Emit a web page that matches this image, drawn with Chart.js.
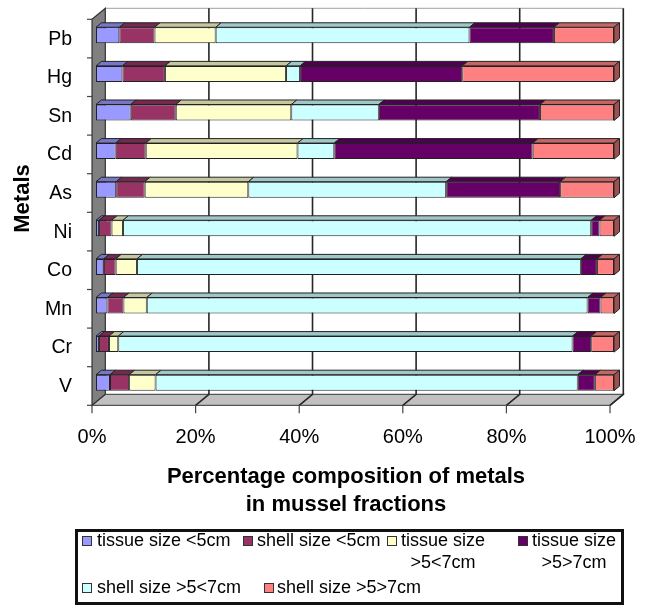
<!DOCTYPE html>
<html>
<head>
<meta charset="utf-8">
<script src="https://cdn.jsdelivr.net/npm/chart.js@4.4.1/dist/chart.umd.min.js"></script>
<style>
  html, body { margin: 0; padding: 0; background: #fff; }
  #wrap { position: relative; width: 646px; height: 606px; overflow: hidden; }
  #chart { position: absolute; left: 0; top: 0; }
  #legendBox { position: absolute; left: 75px; top: 529px; width: 543px; height: 70px; border: 3px solid #111; }
  .lg-sw { position: absolute; width: 8px; height: 8px; border: 1px solid #333; }
  .lg-tx { position: absolute; font: 18px "Liberation Sans", Arial, sans-serif; color: #000; line-height: 22px; }
</style>
</head>
<body>
<div id="wrap">
  <canvas id="chart" width="646" height="606"></canvas>
  <div id="legendBox"></div>
</div>
<script>
// Metals, listed top to bottom
const categories = ['Pb', 'Hg', 'Sn', 'Cd', 'As', 'Ni', 'Co', 'Mn', 'Cr', 'V'];

// Share (%) of each metal held in each mussel fraction
const tissueUnder5 = [4.5, 5.1, 6.7, 3.8, 3.9, 0.6, 1.5, 2.2, 0.6, 2.7];
const shellUnder5  = [6.8, 8.2, 8.7, 5.8, 5.5, 2.4, 2.3, 3.1, 1.9, 3.7];
const tissue5to7   = [11.8, 23.4, 22.3, 29.3, 20.0, 2.2, 4.1, 4.5, 1.8, 5.1];
const shell5to7    = [49.0, 2.7, 16.9, 7.1, 38.2, 90.4, 85.7, 85.1, 87.7, 81.5];
const tissueOver7  = [16.3, 31.3, 31.1, 38.3, 22.0, 1.6, 3.1, 2.5, 3.6, 3.3];
const shellOver7   = [11.6, 29.3, 14.3, 15.7, 10.4, 2.8, 3.3, 2.6, 4.4, 3.7];

const seriesNames = ['tissue size <5cm', 'shell size <5cm', 'tissue size >5<7cm',
                     'shell size >5<7cm', 'tissue size >5>7cm', 'shell size >5>7cm'];
const seriesValues = [tissueUnder5, shellUnder5, tissue5to7, shell5to7, tissueOver7, shellOver7];

const xTickLabels = ['0%', '20%', '40%', '60%', '80%', '100%'];
const xTitle = ['Percentage composition of metals', 'in mussel fractions'];
const yTitle = 'Metals';

// Styling
const seriesColors = ['#9999FF', '#993366', '#FFFFCC', '#CCFFFF', '#660066', '#FF8080'];
const FONT = '"Liberation Sans", Arial, sans-serif';

function shade(hex, f) {
  const n = parseInt(hex.slice(1), 16);
  const r = Math.round(((n >> 16) & 255) * f);
  const g = Math.round(((n >> 8) & 255) * f);
  const b = Math.round((n & 255) * f);
  return `rgb(${r},${g},${b})`;
}

// Depth of the 3-D box (back wall offset) and of the bars themselves
const BOX_DX = 13.3, BOX_DY = -11, BAR_PLANE = 0.3;
const BAR_DX = 5.5, BAR_DY = -4.5;

// Walls, floor, gridlines and tick marks of the 3-D frame
const frame3d = {
  id: 'frame3d',
  beforeDatasetsDraw(chart) {
    const { ctx, chartArea: a, scales: { x } } = chart;
    const px = (v, k) => x.getPixelForValue(v) + (k - BAR_PLANE) * BOX_DX;
    const py = (yy, k) => yy + (k - BAR_PLANE) * BOX_DY;
    const top = a.top, bot = a.bottom;
    ctx.save();
    ctx.lineJoin = 'miter';

    // floor
    ctx.beginPath();
    ctx.moveTo(px(0, 0), py(bot, 0));
    ctx.lineTo(px(100, 0), py(bot, 0));
    ctx.lineTo(px(100, 1), py(bot, 1));
    ctx.lineTo(px(0, 1), py(bot, 1));
    ctx.closePath();
    ctx.fillStyle = '#c0c0c0';
    ctx.fill();
    ctx.strokeStyle = '#555';
    ctx.lineWidth = 1.2;
    ctx.stroke();

    // back wall top edge
    ctx.beginPath();
    ctx.moveTo(px(0, 1), py(top, 1));
    ctx.lineTo(px(100, 1), py(top, 1));
    ctx.strokeStyle = '#a0a0a0';
    ctx.lineWidth = 1;
    ctx.stroke();

    // gridlines on the back wall and across the floor
    ctx.strokeStyle = '#262626';
    ctx.lineWidth = 1.6;
    for (let v = 20; v <= 100; v += 20) {
      ctx.beginPath();
      ctx.moveTo(px(v, 1), py(top, 1));
      ctx.lineTo(px(v, 1), py(bot, 1));
      ctx.lineTo(px(v, 0), py(bot, 0));
      ctx.stroke();
    }

    // left wall
    ctx.beginPath();
    ctx.moveTo(px(0, 0), py(top, 0));
    ctx.lineTo(px(0, 1), py(top, 1));
    ctx.lineTo(px(0, 1), py(bot, 1));
    ctx.lineTo(px(0, 0), py(bot, 0));
    ctx.closePath();
    ctx.fillStyle = '#808080';
    ctx.fill();
    ctx.strokeStyle = '#333';
    ctx.lineWidth = 1.2;
    ctx.stroke();

    // tick marks
    ctx.strokeStyle = '#444';
    ctx.lineWidth = 1.2;
    for (let v = 0; v <= 100; v += 20) {
      ctx.beginPath();
      ctx.moveTo(px(v, 0), py(bot, 0));
      ctx.lineTo(px(v, 0), py(bot, 0) + 8);
      ctx.stroke();
    }
    const band = (bot - top) / categories.length;
    for (let k = 0; k <= categories.length; k++) {
      const yy = py(top + k * band, 0);
      ctx.beginPath();
      ctx.moveTo(px(0, 0), yy);
      ctx.lineTo(px(0, 0) - 5, yy);
      ctx.stroke();
    }
    ctx.restore();
  },
  // top faces of every segment, end cap of the last one
  afterDatasetsDraw(chart) {
    const ctx = chart.ctx;
    const last = chart.data.datasets.length - 1;
    ctx.save();
    ctx.strokeStyle = '#222';
    ctx.lineWidth = 1;
    chart.data.datasets.forEach((ds, di) => {
      const meta = chart.getDatasetMeta(di);
      meta.data.forEach((bar) => {
        const p = bar.getProps(['x', 'y', 'base', 'height'], true);
        const x0 = Math.min(p.base, p.x), x1 = Math.max(p.base, p.x);
        const yt = p.y - p.height / 2, yb = p.y + p.height / 2;
        ctx.beginPath();
        ctx.moveTo(x0, yt);
        ctx.lineTo(x1, yt);
        ctx.lineTo(x1 + BAR_DX, yt + BAR_DY);
        ctx.lineTo(x0 + BAR_DX, yt + BAR_DY);
        ctx.closePath();
        ctx.fillStyle = shade(seriesColors[di], 0.78);
        ctx.fill();
        ctx.stroke();
        if (di === last) {
          ctx.beginPath();
          ctx.moveTo(x1, yt);
          ctx.lineTo(x1 + BAR_DX, yt + BAR_DY);
          ctx.lineTo(x1 + BAR_DX, yb + BAR_DY);
          ctx.lineTo(x1, yb);
          ctx.closePath();
          ctx.fillStyle = shade(seriesColors[di], 0.62);
          ctx.fill();
          ctx.stroke();
        }
      });
    });
    ctx.restore();
  },
  // axis titles
  afterDraw(chart) {
    const ctx = chart.ctx;
    ctx.save();
    ctx.font = 'bold 22px ' + FONT;
    ctx.fillStyle = '#000';
    ctx.textAlign = 'center';
    ctx.textBaseline = 'middle';
    ctx.fillText(xTitle[0], 346, 477);
    ctx.fillText(xTitle[1], 346, 505);
    ctx.translate(23, 198.5);
    ctx.rotate(-Math.PI / 2);
    ctx.fillText(yTitle, 0, 0);
    ctx.restore();
  }
};

// the layout padding alone decides where the plot area sits
function fixAxis(s, prop, size) {
  s[prop] = size;
  s.paddingLeft = s.paddingRight = s.paddingTop = s.paddingBottom = 0;
}

const datasets = seriesValues.map((vals, i) => ({
  label: seriesNames[i],
  data: vals,
  backgroundColor: seriesColors[i],
  borderColor: '#222',
  borderWidth: 1,
  borderSkipped: false,
  barPercentage: 0.415,
  categoryPercentage: 1
}));

new Chart(document.getElementById('chart'), {
  type: 'bar',
  data: { labels: categories, datasets },
  options: {
    indexAxis: 'y',
    responsive: false,
    animation: false,
    devicePixelRatio: 1,
    layout: { padding: { left: 0, top: 16, right: 32, bottom: 0 } },
    plugins: { legend: { display: false }, tooltip: { enabled: false } },
    scales: {
      x: {
        stacked: true, min: 0, max: 100,
        grid: { display: false, drawTicks: false },
        border: { display: false },
        ticks: {
          stepSize: 20, padding: 23, labelOffset: -4, color: '#000',
          font: { family: FONT, size: 20 },
          callback: (v) => xTickLabels[Math.round(v / 20)]
        },
        afterFit: (s) => fixAxis(s, 'height', 204)
      },
      y: {
        stacked: true,
        grid: { display: false, drawTicks: false },
        border: { display: false },
        ticks: { padding: 24, labelOffset: 4, color: '#000', font: { family: FONT, size: 19.5 } },
        afterFit: (s) => fixAxis(s, 'width', 96)
      }
    }
  },
  plugins: [frame3d]
});

// Legend: two rows inside a framed box, wrapped labels centred under their first line
const legendOrder = [0, 1, 2, 4, 3, 5];
const legendSlots = [
  { sx: 82, sy: 536, tx: 97, ty: 529, w: null },
  { sx: 243, sy: 536, tx: 257, ty: 529, w: null },
  { sx: 387, sy: 536, tx: 399, ty: 529, w: 88 },
  { sx: 518, sy: 536, tx: 530, ty: 529, w: 88 },
  { sx: 82, sy: 583, tx: 97, ty: 576, w: null },
  { sx: 264, sy: 583, tx: 277, ty: 576, w: null }
];
const wrap = document.getElementById('wrap');
legendOrder.forEach((si, k) => {
  const s = legendSlots[k];
  const sw = document.createElement('div');
  sw.className = 'lg-sw';
  sw.style.left = s.sx + 'px';
  sw.style.top = s.sy + 'px';
  sw.style.background = seriesColors[si];
  wrap.appendChild(sw);
  const tx = document.createElement('div');
  tx.className = 'lg-tx';
  tx.style.left = s.tx + 'px';
  tx.style.top = s.ty + 'px';
  if (s.w) {
    tx.style.width = s.w + 'px';
    tx.style.textAlign = 'center';
    tx.style.whiteSpace = 'normal';
  } else {
    tx.style.whiteSpace = 'nowrap';
  }
  tx.textContent = seriesNames[si];
  wrap.appendChild(tx);
});
</script>
</body>
</html>
